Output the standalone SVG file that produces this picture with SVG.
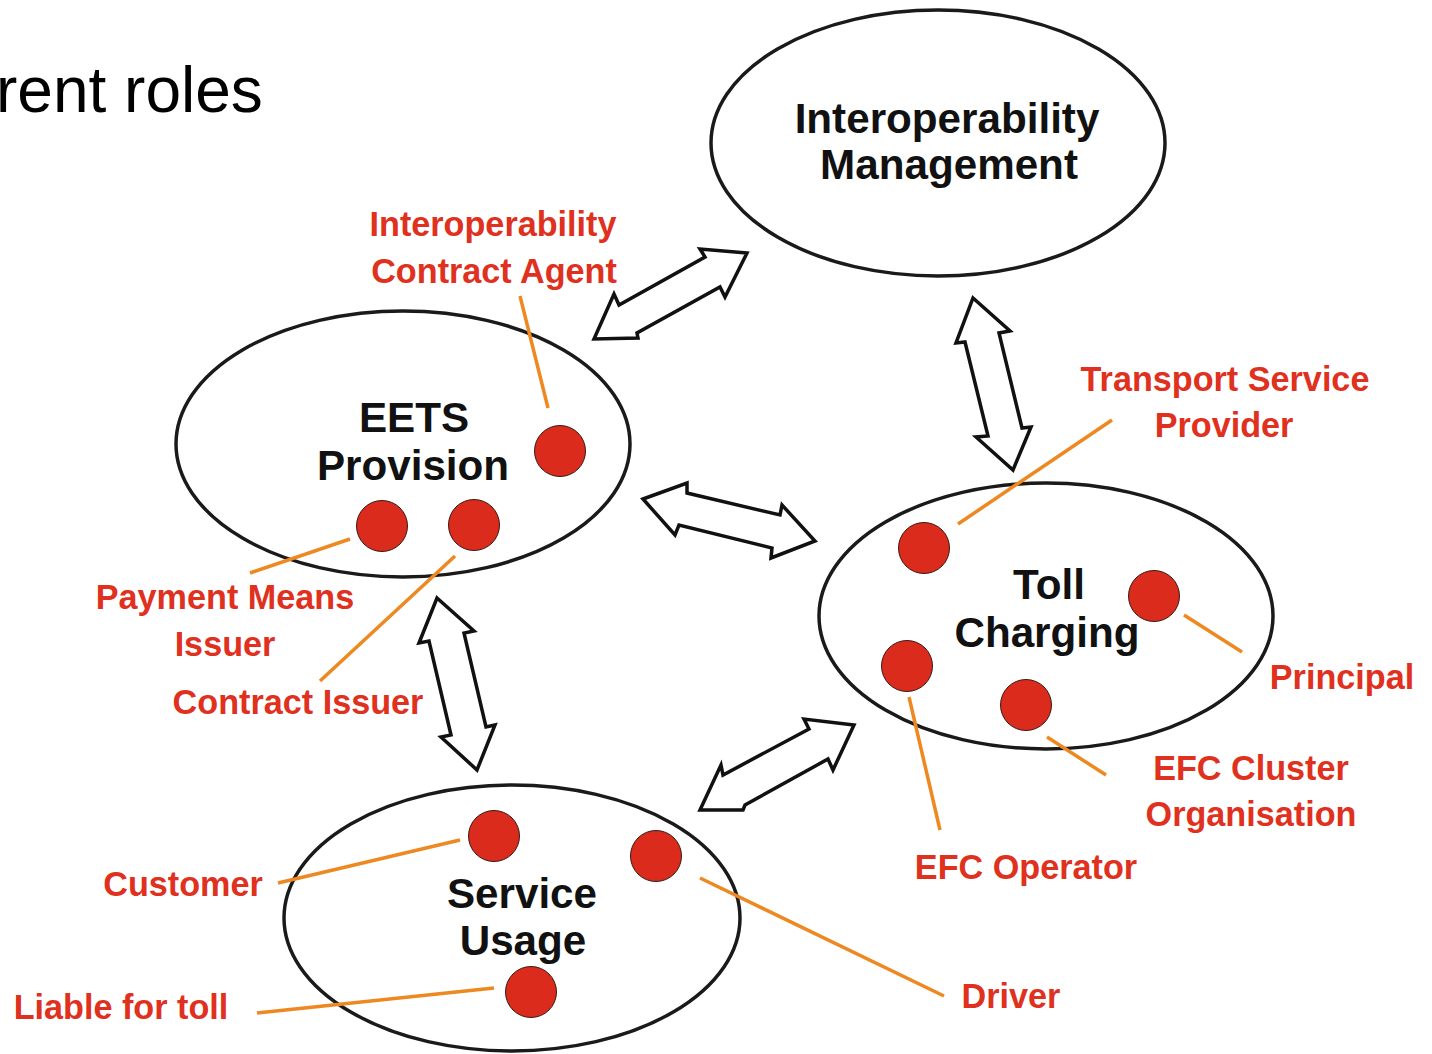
<svg xmlns="http://www.w3.org/2000/svg" width="1432" height="1054" viewBox="0 0 1432 1054">
<style>
.ell{fill:#fff;stroke:#1a1a1a;stroke-width:3.5}
.dot{fill:#db2b1c;stroke:#3a1a14;stroke-width:1}
.lead{stroke:#ee8820;stroke-width:3.5;fill:none}
.arr{fill:#fff;stroke:#111;stroke-width:3.5;stroke-linejoin:miter}
.lbl{font-family:"Liberation Sans",Arial,sans-serif;font-weight:bold;font-size:34.2px;fill:#e0301e;text-anchor:middle}
.ttl{font-family:"Liberation Sans",Arial,sans-serif;font-weight:bold;font-size:42.2px;fill:#111;text-anchor:middle}
</style>
<rect width="1432" height="1054" fill="#fff"/>
<text x="-4" y="112" font-family="Liberation Sans, Arial, sans-serif" font-size="64" fill="#000">rent roles</text>

<g id="connectors">
<polygon class="arr" points="747,253 700,249 705,257 619,305 614,294 594,339 638,338 637,333 720,287 725,297"/>
<polygon class="arr" points="973,298 1010,331 999,333 1022,428 1031,427 1013,470 976,437 988,436 965,342 956,343"/>
<polygon class="arr" points="643,499 687,483 687,493 780,515 782,505 815,541 771,558 772,548 679,525 675,535"/>
<polygon class="arr" points="437,598 474,631 464,633 486,727 495,725 477,770 441,737 451,735 429,641 419,643"/>
<polygon class="arr" points="854,725 804,719 809,729 723,775 721,765 700,810 743,810 745,805 828,759 833,770"/>
</g>

<g id="interop">
<ellipse class="ell" cx="938" cy="143" rx="227" ry="133"/>
<text class="ttl" x="947" y="133">Interoperability</text>
<text class="ttl" x="949" y="179">Management</text>
</g>

<g id="eets">
<ellipse class="ell" cx="403" cy="444" rx="227" ry="133"/>
<text class="ttl" x="414" y="432">EETS</text>
<text class="ttl" x="413" y="480">Provision</text>
</g>

<g id="toll">
<ellipse class="ell" cx="1046" cy="616" rx="227" ry="133"/>
<text class="ttl" x="1049" y="599">Toll</text>
<text class="ttl" x="1047" y="647">Charging</text>
</g>

<g id="service">
<ellipse class="ell" cx="512" cy="918" rx="228" ry="133"/>
<text class="ttl" x="522" y="908">Service</text>
<text class="ttl" x="523" y="955">Usage</text>
</g>

<g id="leaders">
<line class="lead" x1="520" y1="296" x2="548" y2="408"/>
<line class="lead" x1="250" y1="573" x2="350" y2="539"/>
<line class="lead" x1="320" y1="681" x2="455" y2="556"/>
<line class="lead" x1="958" y1="524" x2="1112" y2="420"/>
<line class="lead" x1="1184" y1="615" x2="1242" y2="652"/>
<line class="lead" x1="1047" y1="737" x2="1106" y2="775"/>
<line class="lead" x1="909" y1="697" x2="940" y2="830"/>
<line class="lead" x1="278" y1="883" x2="460" y2="840"/>
<line class="lead" x1="700" y1="878" x2="944" y2="996"/>
<line class="lead" x1="257" y1="1013" x2="494" y2="988"/>
</g>

<g id="roles">
<circle class="dot" cx="560" cy="451" r="25.5"/>
<circle class="dot" cx="382" cy="526" r="25.5"/>
<circle class="dot" cx="474" cy="525" r="25.5"/>
<circle class="dot" cx="924" cy="548" r="25.5"/>
<circle class="dot" cx="1154" cy="596" r="25.5"/>
<circle class="dot" cx="907" cy="666" r="25.5"/>
<circle class="dot" cx="1026" cy="705" r="25.5"/>
<circle class="dot" cx="494" cy="836" r="25.5"/>
<circle class="dot" cx="656" cy="856" r="25.5"/>
<circle class="dot" cx="531" cy="992" r="25.5"/>
</g>

<g id="labels">
<text class="lbl" x="493" y="236">Interoperability</text>
<text class="lbl" x="494" y="283">Contract Agent</text>
<text class="lbl" x="1225" y="391">Transport Service</text>
<text class="lbl" x="1224" y="437">Provider</text>
<text class="lbl" x="225" y="609">Payment Means</text>
<text class="lbl" x="225" y="656">Issuer</text>
<text class="lbl" x="298" y="714">Contract Issuer</text>
<text class="lbl" x="1342" y="689">Principal</text>
<text class="lbl" x="1251" y="780">EFC Cluster</text>
<text class="lbl" x="1251" y="826">Organisation</text>
<text class="lbl" x="1026" y="879">EFC Operator</text>
<text class="lbl" x="183" y="896">Customer</text>
<text class="lbl" x="1011" y="1008">Driver</text>
<text class="lbl" x="121" y="1019">Liable for toll</text>
</g>
</svg>
